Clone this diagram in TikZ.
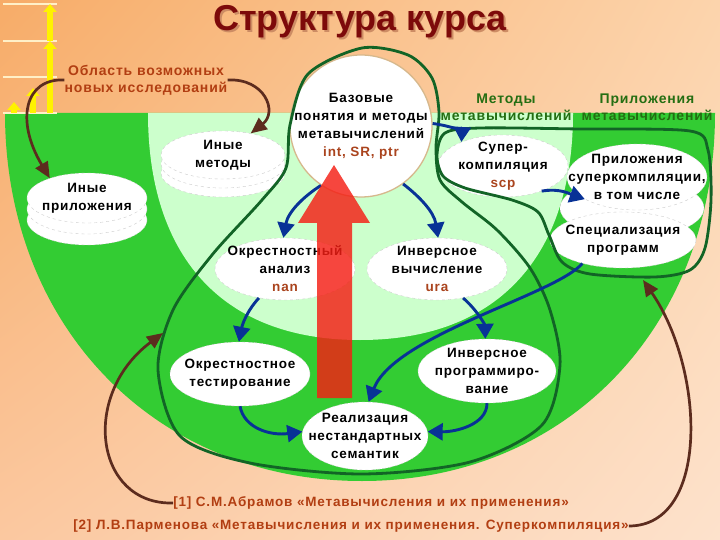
\documentclass[tikz,border=0pt]{standalone}
\usepackage{fontspec}
\setmainfont{Liberation Sans}[LetterSpace=6]
\newfontfamily\titlefont{Liberation Sans}
\usetikzlibrary{arrows.meta,shapes.geometric,shadings,positioning}

\definecolor{bgTL}{RGB}{247,172,104}
\definecolor{bgTR}{RGB}{252,212,172}
\definecolor{bgBL}{RGB}{251,200,160}
\definecolor{bgBR}{RGB}{253,226,204}
\definecolor{fieldDark}{RGB}{51,204,51}
\definecolor{fieldLight}{RGB}{204,255,204}
\definecolor{loopGreen}{RGB}{18,100,38}
\definecolor{arrowBlue}{RGB}{8,50,150}
\definecolor{arrowBrown}{RGB}{92,44,30}
\definecolor{titleRed}{RGB}{125,10,10}
\definecolor{titleShade}{RGB}{205,140,100}
\definecolor{refRed}{RGB}{178,62,18}
\definecolor{codeRed}{RGB}{170,68,30}
\definecolor{labelGreen}{RGB}{36,110,18}
\definecolor{bigRed}{RGB}{245,30,20}
\definecolor{circleRim}{RGB}{214,184,140}
\definecolor{gridCream}{RGB}{255,240,200}

\newcommand{\ovalfont}{\fontsize{13.5}{18}\selectfont\bfseries}
\newcommand{\capfont}{\fontsize{14}{17}\selectfont\bfseries}
\newcommand{\reffont}{\fontsize{13.5}{16}\selectfont\bfseries}
\newcommand{\code}[1]{\textcolor{codeRed}{#1}}

\begin{document}
\begin{tikzpicture}[x=1pt, y=-1pt, >={Triangle[length=15pt,width=17pt]}]

	\tikzset{
		oval/.style = {ellipse, fill=white, draw=gray!40, dashed, thin,
			inner sep=-80pt, align=center, font=\ovalfont},
		layer/.style = {fill=white, draw=gray!40, dashed, thin},
		loopline/.style = {draw=loopGreen, line width=2.8pt},
		flow/.style = {->, draw=arrowBlue, line width=2.9pt},
		hint/.style = {-{Triangle[length=16pt,width=14pt]}, draw=arrowBrown, line width=2.7pt},
		gridline/.style = {draw=gridCream, line width=1.4pt},
		bar/.style = {-{Triangle[length=8pt,width=13pt]}, draw=yellow, line width=6.5pt}
	}

	\useasboundingbox (0,0) rectangle (720,540);
	\shade[upper left=bgTL, upper right=bgTR, lower left=bgBL, lower right=bgBR] (0,0) rectangle (720,540);

	% fields
	\fill[fieldDark] (5,113) -- (715,113) .. controls (715,326) and (567,481) .. (362,481)
		.. controls (155,481) and (5,326) .. (5,113) -- cycle;
	\fill[fieldLight] (148,113) -- (573,113) .. controls (573,254) and (500,340) .. (360,340)
		.. controls (220,340) and (148,254) .. (148,113) -- cycle;

	% scale in the corner
	\foreach \gy in {4,41,77,113} \draw[gridline] (3,\gy) -- (57,\gy);
	\draw[bar] (50,113) -- (50,41);
	\draw[bar] (50,41) -- (50,4);
	\draw[bar] (33,113) -- (33,88);
	\draw[bar] (14,113) -- (14,102);

	\node[font=\titlefont\fontsize{36}{40}\selectfont\bfseries, text=titleShade] (titleShadow) at (362,24) {Структура курса};
	\node[font=\titlefont\fontsize{36}{40}\selectfont\bfseries, text=titleRed] (title) at (360,22) {Структура курса};

	% nodes
	\draw[layer] (87,220) ellipse[x radius=60, y radius=25];
	\draw[layer] (87,209) ellipse[x radius=60, y radius=25];
	\node[oval, minimum width=120pt, minimum height=50pt] (othApp) at (87,198) {Иные\\приложения};

	\draw[layer] (223,173) ellipse[x radius=62, y radius=24];
	\draw[layer] (223,164) ellipse[x radius=62, y radius=24];
	\node[oval, minimum width=124pt, minimum height=48pt] (othMeth) at (223,155) {Иные\\методы};

	\node[circle, fill=white, draw=circleRim, line width=1.3pt, minimum size=142pt, inner sep=-80pt,
		align=center, font=\ovalfont] (base) at (361,126) {Базовые\\понятия и методы\\метавычислений\\\code{int, SR, ptr}};

	\node[oval, minimum width=130pt, minimum height=62pt] (supc) at (503,166) {Супер-\\компиляция\\\code{scp}};

	\draw[layer] (632,208) ellipse[x radius=72, y radius=30];
	\node[oval, minimum width=146pt, minimum height=56pt] (spec) at (623,240) {Специализация\\программ};
	\node[oval, minimum width=140pt, minimum height=66pt] (suApp) at (637,177) {Приложения\\суперкомпиляции,\\в том числе};

	\node[oval, minimum width=140pt, minimum height=62pt] (nanAn) at (285,269) {Окрестностный\\анализ\\\code{nan}};
	\node[oval, minimum width=140pt, minimum height=62pt] (invCalc) at (437,269) {Инверсное\\вычисление\\\code{ura}};
	\node[oval, minimum width=140pt, minimum height=64pt] (nanTest) at (240,374) {Окрестностное\\тестирование};
	\node[oval, minimum width=138pt, minimum height=64pt] (invProg) at (487,371) {Инверсное\\программиро-\\вание};
	\node[oval, minimum width=126pt, minimum height=68pt] (realiz) at (365,436) {Реализация\\нестандартных\\семантик};

	% labels
	\node[font=\capfont, text=refRed, align=center, inner sep=0pt] (areaLbl) at (146,80) {Область возможных\\новых исследований};
	\node[font=\capfont, text=labelGreen, align=center, inner sep=0pt] (methLbl) at (506,107) {Методы\\метавычислений};
	\node[font=\capfont, text=labelGreen, align=center, inner sep=0pt] (appLbl) at (647,107) {Приложения\\метавычислений};
	\node[font=\reffont, text=refRed, inner sep=0pt] (ref1) at (371,503) {[1] С.М.Абрамов «Метавычисления и их применения»};
	\node[font=\reffont, text=refRed, inner sep=0pt] (ref2) at (351,526) {[2] Л.В.Парменова «Метавычисления и их применения. Суперкомпиляция»};

	% loops
	\draw[loopline] plot[smooth cycle] coordinates {(362,48) (408,55) (432,78) (439,112) (436,148)
		(440,180) (462,202) (497,230) (530,268) (550,310) (560,365) (542,425) (470,462) (362,474)
		(250,463) (180,436) (158,370) (173,310) (212,255) (262,200) (286,168) (290,125) (308,74)};
	\draw[loopline] plot[smooth cycle] coordinates {(445,133) (480,128) (580,129) (690,131) (708,150)
		(711,200) (705,248) (690,270) (655,277) (590,274) (562,262) (549,235) (538,212) (512,200)
		(465,188) (443,176) (437,155)};

	% flows
	\draw[flow] (base.2) .. controls (452,126) and (462,132) .. (supc.150);
	\draw[flow] (base.236) .. controls (303,197) and (288,212) .. (nanAn.93);
	\draw[flow] (base.-54) .. controls (420,197) and (434,212) .. (invCalc.88);
	\draw[flow] (nanAn.228) .. controls (246,312) and (242,326) .. (nanTest.92);
	\draw[flow] (invCalc.-48) .. controls (479,312) and (485,326) .. (invProg.93);
	\draw[flow] (supc.-33) .. controls (560,188) and (570,194) .. (suApp.203);
	\draw[flow] (spec.-150) .. controls (555,295) and (395,335) .. (realiz.84);
	\draw[flow] (nanTest.-90) .. controls (244,428) and (270,436) .. (realiz.176);
	\draw[flow] (invProg.-90) .. controls (487,425) and (455,432) .. (realiz.4);

	% big arrow
	\fill[bigRed, opacity=0.82] (317,398) -- (317,223) -- (298,223) -- (334,165) -- (370,223)
		-- (352,223) -- (352,398) -- cycle;

	% hints
	\coordinate (tipA) at (163,333);
	\coordinate (tipB) at (643,280);
	\draw[hint] (areaLbl.west) .. controls (25,78) and (15,120) .. (othApp.152);
	\draw[hint] (areaLbl.east) .. controls (265,78) and (278,112) .. (othMeth.38);
	\draw[hint] (ref1.west) .. controls (95,505) and (80,395) .. (tipA);
	\draw[hint] (ref2.east) .. controls (710,526) and (705,370) .. (tipB);

\end{tikzpicture}
\end{document}
